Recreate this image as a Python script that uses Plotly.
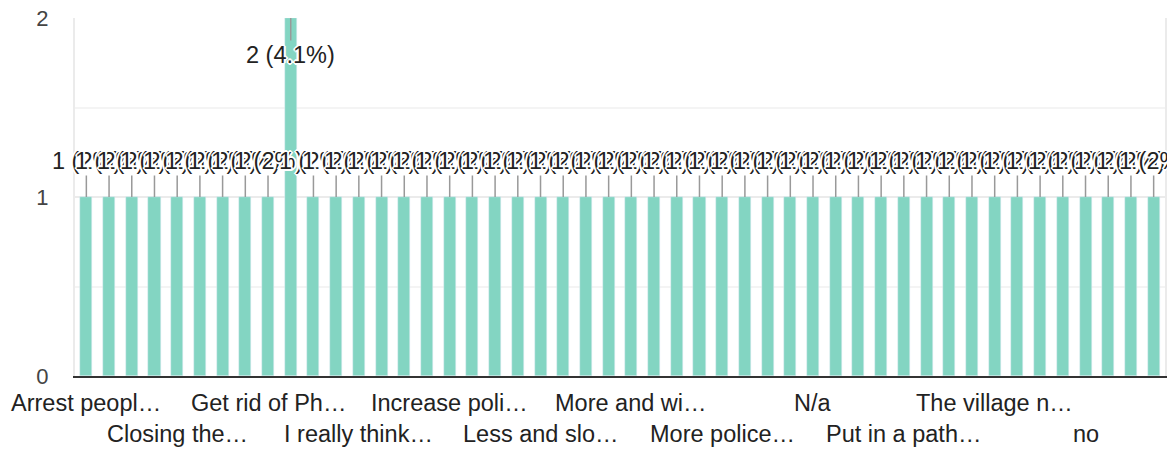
import plotly.graph_objects as go

# every 4th category label is shown under the axis (truncated, as in the source)
tick_labels = ["Arrest peopl…", "Closing the…", "Get rid of Ph…", "I really think…",
               "Increase poli…", "Less and slo…", "More and wi…", "More police…",
               "N/a", "Put in a path…", "The village n…", "no"]
label_step = 4

# responses per answer (48 answers, alphabetical order)
counts = [1, 1, 1, 1, 1, 1, 1, 1, 1, 2, 1, 1,
          1, 1, 1, 1, 1, 1, 1, 1, 1, 1, 1, 1,
          1, 1, 1, 1, 1, 1, 1, 1, 1, 1, 1, 1,
          1, 1, 1, 1, 1, 1, 1, 1, 1, 1, 1, 1]

total = sum(counts)
xs = list(range(len(counts)))

def pct_text(v):
    p = f"{100 * v / total:.1f}".rstrip("0").rstrip(".")
    return f"{v} ({p}%)"

fig = go.Figure(go.Bar(x=xs, y=counts, marker_color="#83d5c2", width=0.53,
                       hoverinfo="skip"))

font_main = "Liberation Sans, Arial, sans-serif"
halo = "2px 0 0 white, -2px 0 0 white, 0 2px 0 white, 0 -2px 0 white, 1px 1px 0 white, -1px -1px 0 white, 1px -1px 0 white, -1px 1px 0 white"

annotations = []
ymax = max(counts)
for x, v in zip(xs, counts):
    # tall bar gets its label hanging inside the bar, the others sit above
    ay = 37 if v == ymax else -36
    annotations.append(dict(
        x=x, y=v, xref="x", yref="y", text=pct_text(v),
        showarrow=True, arrowhead=0, arrowwidth=1.5, arrowcolor="#999999",
        ax=0, ay=ay,
        font=dict(family=font_main, size=23.5, color="#222222", shadow=halo),
    ))

for i, lab in enumerate(tick_labels):
    row = i % 2
    annotations.append(dict(
        x=i * label_step, y=0, xref="x", yref="paper", text=lab,
        showarrow=False, yanchor="top", xanchor="center",
        yshift=-12 - row * 31,
        font=dict(family=font_main, size=23.5, color="#222222"),
    ))

fig.update_layout(
    width=1167, height=450,
    margin=dict(l=75, r=2, t=18, b=74),
    plot_bgcolor="white", paper_bgcolor="white",
    showlegend=False,
    bargap=0,
    annotations=annotations,
    font=dict(family=font_main, color="#444444"),
)
fig.update_xaxes(range=[-0.5, len(counts) - 0.5], showticklabels=False,
                 showgrid=False, zeroline=False, automargin=False,
                 showline=True, linecolor="#333333", linewidth=2)
fig.update_yaxes(range=[0, 2], tickvals=[0, 1, 2], ticks="outside", ticklen=20,
                 tickcolor="rgba(0,0,0,0)", tickfont=dict(size=22, color="#444444"),
                 ticklabeloverflow="allow", automargin=False,
                 gridcolor="#ebebeb", gridwidth=2, zeroline=False,
                 showline=True, linecolor="#ebebeb", linewidth=2, mirror=True,
                 minor=dict(tickvals=[0.5, 1.5], showgrid=True,
                            gridcolor="#f4f4f4", gridwidth=2))

# drop the default 8px body margin so the figure sits at the window's corner
fig.write_html("out.html", config={"displayModeBar": False},
               post_script="document.body.style.margin = '0';")
